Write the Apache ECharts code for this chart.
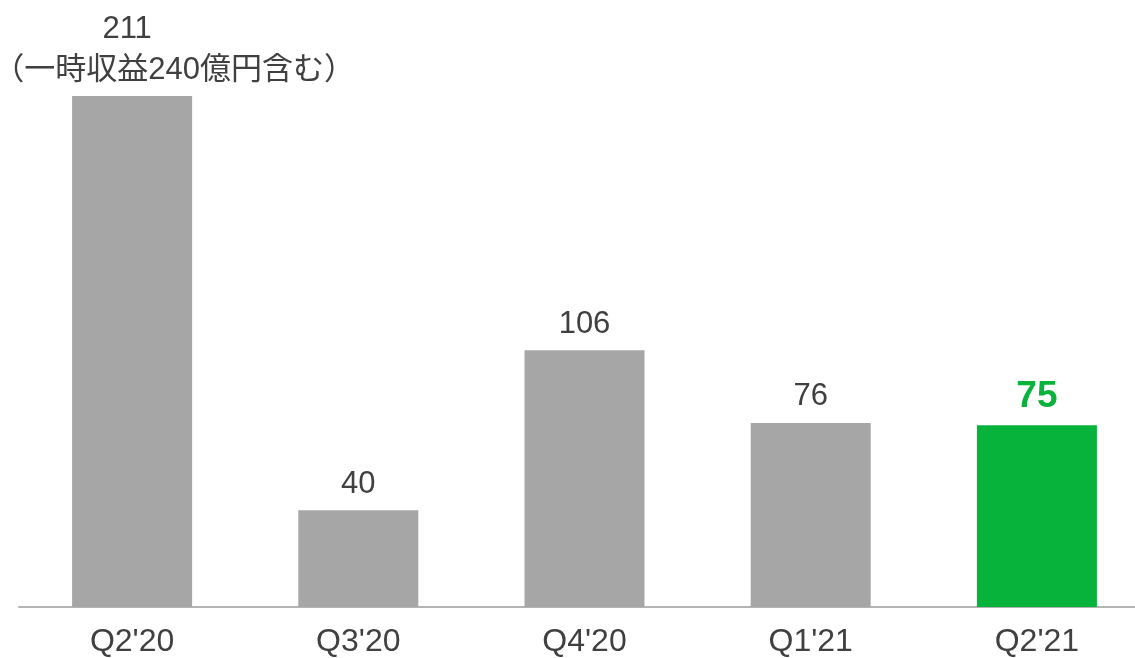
<!DOCTYPE html>
<html>
<head>
<meta charset="utf-8">
<style>
  html, body { margin: 0; padding: 0; background: #ffffff; overflow: hidden; }
  #chart { width: 1150px; height: 658px; }
</style>
<script src="https://cdn.jsdelivr.net/npm/echarts@6/dist/echarts.min.js"></script>
</head>
<body>
<div id="chart"></div>
<script>
// Quarterly values (億円)
const quarters = ["Q2'20", "Q3'20", "Q4'20", "Q1'21", "Q2'21"];
const values = [211, 40, 106, 76, 75];
// Extra note shown under a bar's value (empty = none)
const notes = ["（一時収益240億円含む）", "", "", "", ""];
// Index of the highlighted (latest) quarter
const highlightIndex = 4;

const FONT = "'Liberation Sans', Arial, 'Noto Sans CJK JP', sans-serif";
const GREY = '#a6a6a6';
const GREEN = '#08b33b';
const TEXT = '#404040';

const seriesData = values.map((v, i) => {
  const hl = i === highlightIndex;
  const item = { value: v, itemStyle: { color: hl ? GREEN : GREY } };
  if (hl) {
    item.label = { color: GREEN, fontWeight: 'bold', fontSize: 37, lineHeight: 44, distance: 7 };
  } else if (notes[i]) {
    // value on the first line, note below it; the note block sits right of the bar centre
    item.label = {
      offset: [42, 0],
      formatter: p => '{v|' + p.value + '}\n{n|' + notes[p.dataIndex] + '}',
      rich: {
        v: { fontSize: 31, lineHeight: 41, color: TEXT, fontFamily: FONT, padding: [0, 94, 0, 0] },
        n: { fontSize: 31, lineHeight: 41, color: TEXT, fontFamily: FONT }
      }
    };
  }
  return item;
});

// The plot area runs slightly past the right edge of the visible page,
// so the last category band is cut off by the window.
const chart = echarts.init(document.getElementById('chart'), null, { renderer: 'canvas' });
chart.setOption({
  animation: false,
  backgroundColor: '#ffffff',
  grid: { left: 19, top: 96, right: 0, bottom: 51, containLabel: false },
  xAxis: {
    type: 'category',
    data: quarters,
    axisLine: { show: true, lineStyle: { color: '#b4b4b4', width: 2 } },
    axisTick: { show: false },
    axisLabel: { color: TEXT, fontSize: 32, fontFamily: FONT, margin: 19 }
  },
  yAxis: {
    type: 'value',
    min: 0,
    max: 211,
    show: false,
    splitLine: { show: false }
  },
  series: [{
    type: 'bar',
    data: seriesData,
    barWidth: 120,
    label: {
      show: true,
      position: 'top',
      distance: 5,
      color: TEXT,
      fontSize: 31,
      lineHeight: 42,
      fontFamily: FONT,
      formatter: p => String(p.value)
    }
  }]
});
</script>
</body>
</html>
